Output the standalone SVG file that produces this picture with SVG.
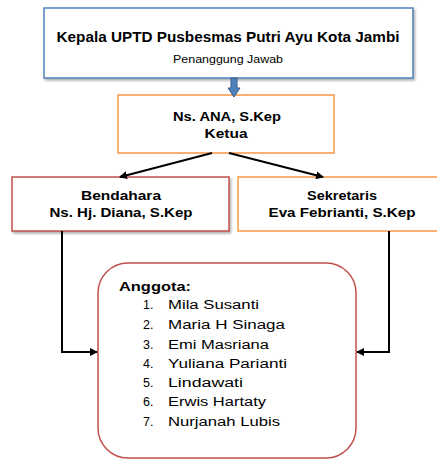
<svg xmlns="http://www.w3.org/2000/svg" width="437" height="459" viewBox="0 0 437 459">
<defs>
<style>
.t{font-family:"Liberation Sans",Arial,sans-serif;fill:#000}
.b{font-weight:bold}
.box{fill:#fff;stroke-width:1.5}
.con{stroke:#000;stroke-width:2;fill:none}
</style>
<marker id="ah" markerWidth="8" markerHeight="8" refX="7" refY="4" orient="auto" markerUnits="userSpaceOnUse">
<path d="M0,0 L8,4 L0,8 Z" fill="#000"/>
</marker>
<filter id="sh" x="-5%" y="-5%" width="115%" height="120%">
<feDropShadow dx="1.5" dy="2" stdDeviation="1" flood-color="#000" flood-opacity="0.3"/>
</filter>
</defs>
<rect width="437" height="459" fill="#fff"/>
<g id="kepala">
<rect class="box" x="44" y="8" width="369" height="70" stroke="#4f81bd" filter="url(#sh)"/>
<text class="t b" x="228" y="42" font-size="14" text-anchor="middle" textLength="343" lengthAdjust="spacingAndGlyphs">Kepala UPTD  Pusbesmas Putri Ayu Kota Jambi</text>
<text class="t" x="228" y="63" font-size="10" text-anchor="middle" textLength="110" lengthAdjust="spacingAndGlyphs">Penanggung Jawab</text>
</g>
<g id="ketua">
<rect class="box" x="118" y="95" width="216" height="58" stroke="#f79646"/>
<text class="t b" x="227" y="121" font-size="13" text-anchor="middle" textLength="108" lengthAdjust="spacingAndGlyphs">Ns. ANA, S.Kep</text>
<text class="t b" x="226" y="138" font-size="13" text-anchor="middle" textLength="43" lengthAdjust="spacingAndGlyphs">Ketua</text>
</g>
<g id="bendahara">
<rect class="box" x="12" y="177" width="217" height="54" stroke="#c0504d" filter="url(#sh)"/>
<text class="t b" x="121" y="200" font-size="13" text-anchor="middle" textLength="80" lengthAdjust="spacingAndGlyphs">Bendahara</text>
<text class="t b" x="121" y="217" font-size="13" text-anchor="middle" textLength="143" lengthAdjust="spacingAndGlyphs">Ns. Hj. Diana, S.Kep</text>
</g>
<g id="sekretaris">
<rect class="box" x="238" y="177" width="205" height="54" stroke="#f79646"/>
<text class="t b" x="342" y="200" font-size="13" text-anchor="middle" textLength="70" lengthAdjust="spacingAndGlyphs">Sekretaris</text>
<text class="t b" x="342" y="217" font-size="13" text-anchor="middle" textLength="147" lengthAdjust="spacingAndGlyphs">Eva Febrianti, S.Kep</text>
</g>
<g id="anggota">
<rect class="box" x="98" y="263" width="258" height="195" rx="30" ry="30" stroke="#c0504d"/>
<text class="t b" x="119" y="291" font-size="12" textLength="72" lengthAdjust="spacingAndGlyphs">Anggota:</text>
<g class="t" font-size="12.5">
<text x="143" y="309">1.</text><text x="168" y="309" textLength="91" lengthAdjust="spacingAndGlyphs">Mila Susanti</text>
<text x="143" y="329">2.</text><text x="168" y="329" textLength="117" lengthAdjust="spacingAndGlyphs">Maria H Sinaga</text>
<text x="143" y="349">3.</text><text x="168" y="349" textLength="101" lengthAdjust="spacingAndGlyphs">Emi Masriana</text>
<text x="143" y="368">4.</text><text x="168" y="368" textLength="119" lengthAdjust="spacingAndGlyphs">Yuliana Parianti</text>
<text x="143" y="387">5.</text><text x="168" y="387" textLength="75" lengthAdjust="spacingAndGlyphs">Lindawati</text>
<text x="143" y="406">6.</text><text x="168" y="406" textLength="98" lengthAdjust="spacingAndGlyphs">Erwis Hartaty</text>
<text x="143" y="426">7.</text><text x="168" y="426" textLength="112" lengthAdjust="spacingAndGlyphs">Nurjanah Lubis</text>
</g>
</g>
<g id="connectors">
<path d="M231,78 L231,88 L228,88 L234,97 L240,88 L237,88 L237,78 Z" fill="#4f81bd" stroke="#385d8a" stroke-width="1"/>
<line class="con" x1="212" y1="153" x2="120" y2="177" marker-end="url(#ah)"/>
<line class="con" x1="229" y1="153" x2="323" y2="177" marker-end="url(#ah)"/>
<polyline class="con" points="62,231 62,352 97,352" marker-end="url(#ah)"/>
<polyline class="con" points="389,231 389,352 357,352" marker-end="url(#ah)"/>
</g>
</svg>
